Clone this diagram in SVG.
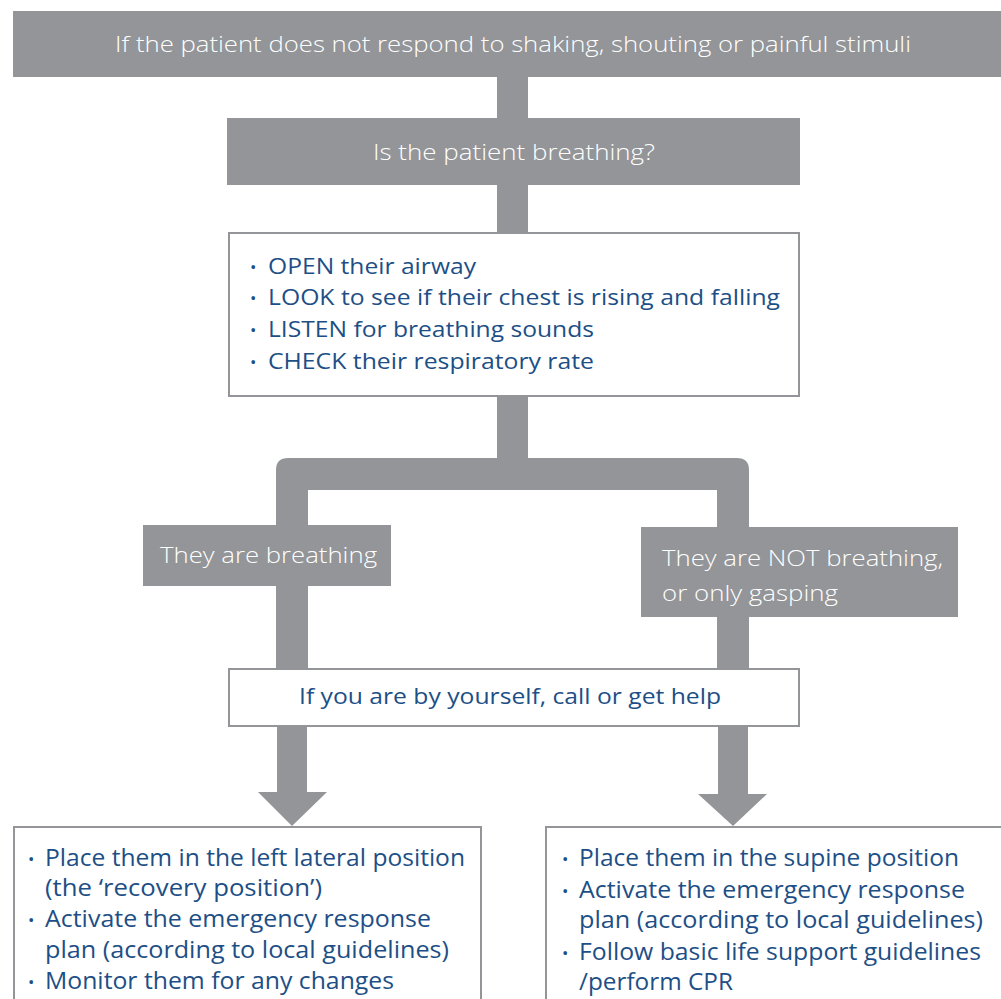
<svg xmlns="http://www.w3.org/2000/svg" width="1001" height="999" viewBox="0 0 1001 999">
<style>
.g{fill:#939598}
.bx{fill:#ffffff;stroke:#939598;stroke-width:2}
.w{fill:#ffffff;font-family:"Open Sans","Liberation Sans",sans-serif;font-size:22px;font-weight:300}
.b{fill:#1d4f86;font-family:"Open Sans","Liberation Sans",sans-serif;font-size:22px}
.l{font-size:23px}
.d{font-size:17px}
</style>
<rect width="1001" height="999" fill="#ffffff"/>
<g id="connectors" class="g">
<rect x="497" y="77" width="31" height="42"/>
<rect x="497" y="185" width="31" height="48"/>
<rect x="497" y="396" width="31" height="63"/>
<path d="M276 526 V470 Q276 458 288 458 H737 Q749 458 749 470 V528 H717 V490 H308 V526 Z"/>
<rect x="276" y="585" width="32" height="84"/>
<rect x="717" y="616" width="32" height="53"/>
<rect x="277" y="726" width="30" height="67"/>
<polygon points="258,792 327,792 292,826"/>
<rect x="718" y="726" width="30" height="69"/>
<polygon points="698,794 767,794 733,826"/>
</g>
<g id="n1">
<rect class="g" x="13" y="11" width="988" height="66"/>
<text class="w" x="513" y="52" text-anchor="middle" textLength="796" lengthAdjust="spacingAndGlyphs">If the patient does not respond to shaking, shouting or painful stimuli</text>
</g>
<g id="n2">
<rect class="g" x="227" y="118" width="573" height="67"/>
<text class="w" x="514" y="160" text-anchor="middle" textLength="282" lengthAdjust="spacingAndGlyphs">Is the patient breathing?</text>
</g>
<g id="n3">
<rect class="bx" x="229" y="233" width="570" height="163"/>
<g class="b">
<text class="d" x="250" y="273">•</text><text x="268" y="274" textLength="208" lengthAdjust="spacingAndGlyphs">OPEN their airway</text>
<text class="d" x="250" y="304">•</text><text x="268" y="305" textLength="512" lengthAdjust="spacingAndGlyphs">LOOK to see if their chest is rising and falling</text>
<text class="d" x="250" y="336">•</text><text x="268" y="337" textLength="326" lengthAdjust="spacingAndGlyphs">LISTEN for breathing sounds</text>
<text class="d" x="250" y="368">•</text><text x="268" y="369" textLength="326" lengthAdjust="spacingAndGlyphs">CHECK their respiratory rate</text>
</g>
</g>
<g id="n4">
<rect class="g" x="143" y="525" width="248" height="61"/>
<text class="w" x="160" y="563" textLength="217" lengthAdjust="spacingAndGlyphs">They are breathing</text>
</g>
<g id="n5">
<rect class="g" x="641" y="527" width="317" height="90"/>
<text class="w" x="662" y="566" textLength="281" lengthAdjust="spacingAndGlyphs">They are NOT breathing,</text>
<text class="w" x="662" y="601" textLength="176" lengthAdjust="spacingAndGlyphs">or only gasping</text>
</g>
<g id="n6">
<rect class="bx" x="229" y="669" width="570" height="57"/>
<text class="b" x="299" y="704" textLength="422" lengthAdjust="spacingAndGlyphs">If you are by yourself, call or get help</text>
</g>
<g id="n7">
<rect class="bx" x="14" y="827" width="467" height="190"/>
<g class="b l">
<text class="d" x="28" y="865">•</text><text x="45" y="866" textLength="420" lengthAdjust="spacingAndGlyphs">Place them in the left lateral position</text>
<text x="45" y="896" textLength="277" lengthAdjust="spacingAndGlyphs">(the ‘recovery position’)</text>
<text class="d" x="28" y="926">•</text><text x="45" y="927" textLength="386" lengthAdjust="spacingAndGlyphs">Activate the emergency response</text>
<text x="45" y="958" textLength="404" lengthAdjust="spacingAndGlyphs">plan (according to local guidelines)</text>
<text class="d" x="28" y="988">•</text><text x="45" y="989" textLength="349" lengthAdjust="spacingAndGlyphs">Monitor them for any changes</text>
</g>
</g>
<g id="n8">
<rect class="bx" x="546" y="827" width="470" height="190"/>
<g class="b l">
<text class="d" x="562" y="865">•</text><text x="579" y="866" textLength="380" lengthAdjust="spacingAndGlyphs">Place them in the supine position</text>
<text class="d" x="562" y="897">•</text><text x="579" y="898" textLength="386" lengthAdjust="spacingAndGlyphs">Activate the emergency response</text>
<text x="579" y="928" textLength="404" lengthAdjust="spacingAndGlyphs">plan (according to local guidelines)</text>
<text class="d" x="562" y="959">•</text><text x="579" y="960" textLength="402" lengthAdjust="spacingAndGlyphs">Follow basic life support guidelines</text>
<text x="579" y="990" textLength="154" lengthAdjust="spacingAndGlyphs">/perform CPR</text>
</g>
</g>
</svg>
